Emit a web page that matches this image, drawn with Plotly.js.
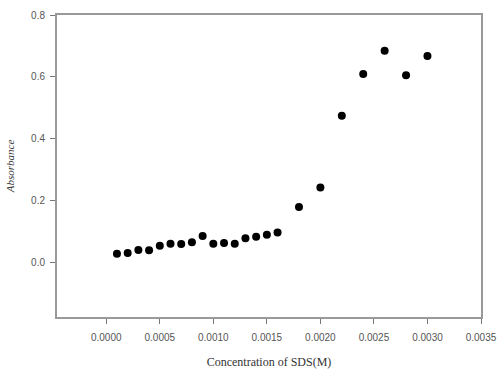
<!DOCTYPE html>
<html>
<head>
<meta charset="utf-8">
<script src="https://cdn.plot.ly/plotly-3.0.1.min.js"></script>
<style>html,body{margin:0;padding:0;background:#fff;}#chart{width:500px;height:373px;}</style>
</head>
<body>
<div id="chart"></div>
<script>
const concentration = [0.0001,0.0002,0.0003,0.0004,0.0005,0.0006,0.0007,0.0008,0.0009,0.0010,0.0011,0.0012,0.0013,0.0014,0.0015,0.0016,0.0018,0.0020,0.0022,0.0024,0.0026,0.0028,0.0030];
const absorbance = [0.027,0.029,0.039,0.038,0.053,0.059,0.058,0.064,0.084,0.059,0.062,0.059,0.077,0.082,0.088,0.096,0.178,0.241,0.474,0.609,0.684,0.605,0.667];
const xTickVals = [0,0.0005,0.0010,0.0015,0.0020,0.0025,0.0030,0.0035];
const xTickText = ["0.0000","0.0005","0.0010","0.0015","0.0020","0.0025","0.0030","0.0035"];
const yTickVals = [0,0.2,0.4,0.6,0.8];
const yTickText = ["0.0","0.2","0.4","0.6","0.8"];

const trace = {
  x: concentration, y: absorbance, type: 'scatter', mode: 'markers',
  marker: {color: '#000', size: 8}, hoverinfo: 'none'
};
const layout = {
  width: 500, height: 373,
  margin: {l: 57, r: 19, t: 15, b: 56},
  paper_bgcolor: '#fff', plot_bgcolor: '#fff',
  showlegend: false,
  xaxis: {
    range: [-0.00046, 0.0035], tickvals: xTickVals, ticktext: xTickText,
    ticks: 'outside', ticklen: 5, tickcolor: '#777', tickwidth: 1,
    ticklabelstandoff: 5,
    showline: true, linecolor: '#999', linewidth: 2, mirror: true,
    showgrid: false, zeroline: false,
    tickfont: {family: 'Arial, Liberation Sans, sans-serif', size: 10, color: '#555'},
    title: {text: 'Concentration of SDS(M)', font: {family: 'Times New Roman, Liberation Serif, serif', size: 12, color: '#333'}, standoff: 16}
  },
  yaxis: {
    range: [-0.178, 0.8], tickvals: yTickVals, ticktext: yTickText,
    ticks: 'outside', ticklen: 5, tickcolor: '#777', tickwidth: 1,
    ticklabelstandoff: 3,
    showline: true, linecolor: '#999', linewidth: 2, mirror: true,
    showgrid: false, zeroline: false,
    tickfont: {family: 'Arial, Liberation Sans, sans-serif', size: 10, color: '#555'},
    title: {text: '<i>Absorbance</i>', font: {family: 'Times New Roman, Liberation Serif, serif', size: 11, color: '#333'}, standoff: 14}
  }
};
Plotly.newPlot('chart', [trace], layout, {displayModeBar: false, staticPlot: true});
</script>
</body>
</html>
